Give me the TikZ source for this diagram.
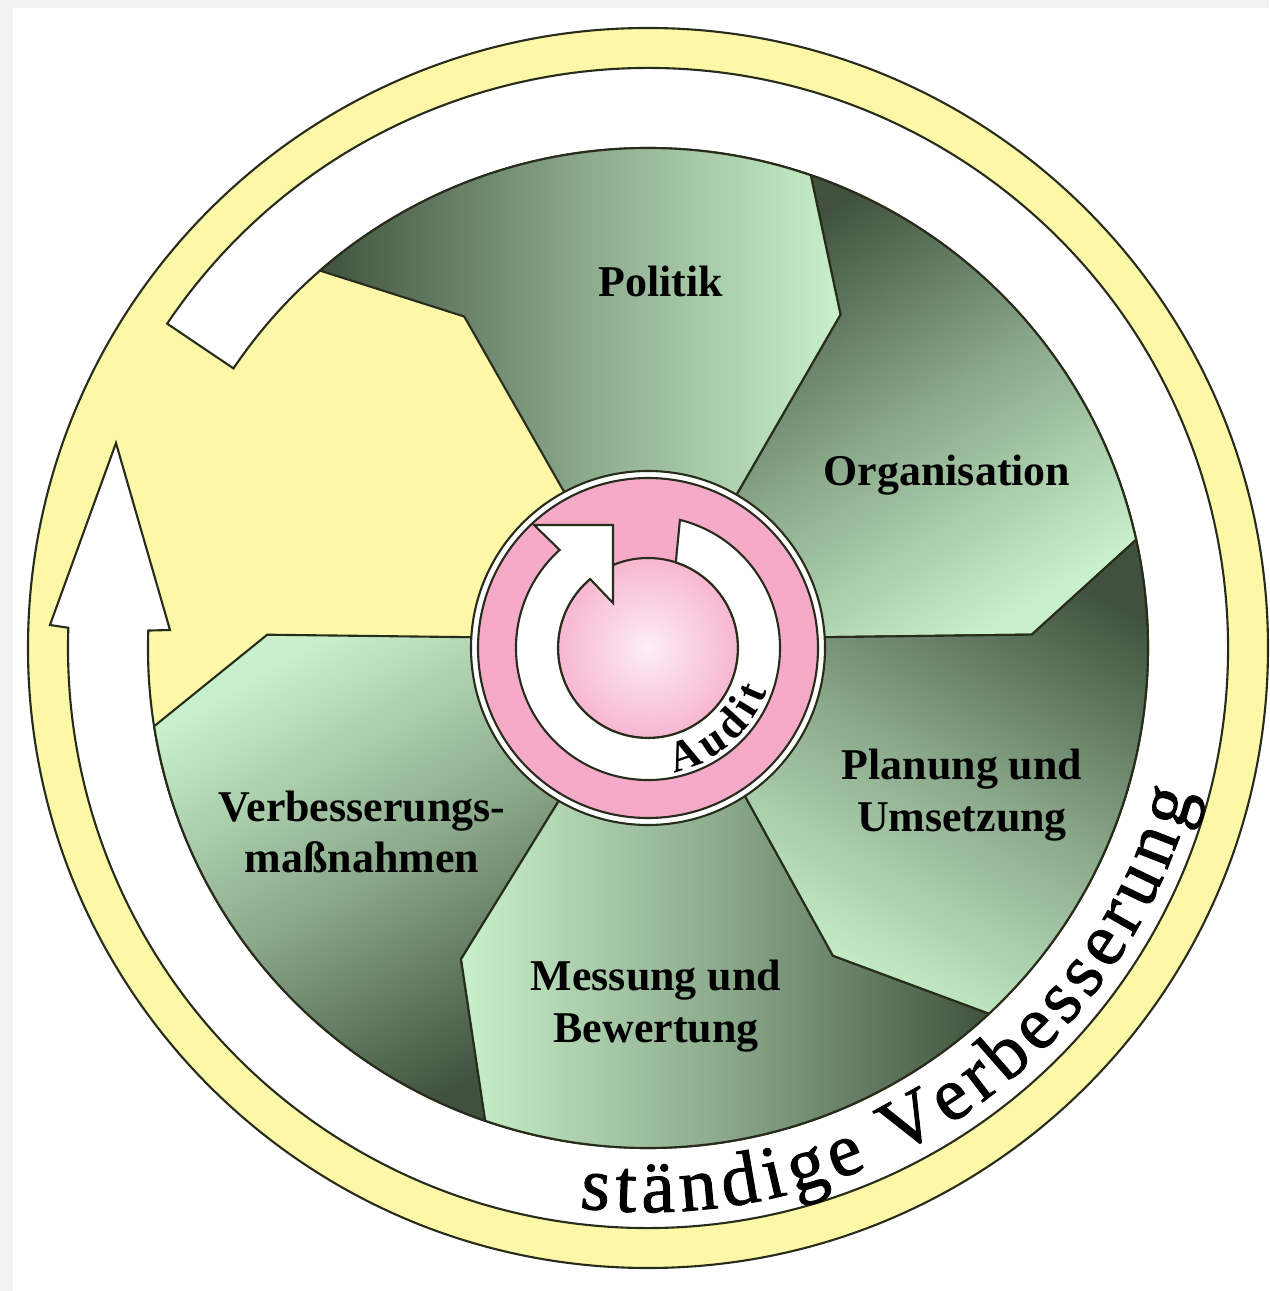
\documentclass[tikz,border=0pt]{standalone}
\usepackage{fontspec}
\setmainfont{Liberation Serif}
\newfontfamily\ringfont[FakeBold=1.3]{Liberation Serif}
\usetikzlibrary{decorations.text}
\definecolor{rimyellow}{RGB}{253,247,168}
\definecolor{leafdark}{RGB}{64,82,62}
\definecolor{leaflight}{RGB}{200,240,202}
\definecolor{auditpink}{RGB}{245,170,200}
\definecolor{auditcore}{RGB}{253,238,245}
\definecolor{rimline}{RGB}{40,44,26}
\begin{document}
\begin{tikzpicture}[outline/.style={draw=#1,line width=0.6pt},
  leaf/.style={top color=leafdark,bottom color=leaflight,middle color=leafdark!45!leaflight,shading angle=#1,outline=rimline},
  phasetext/.style={font=\fontsize{12.5}{14.6}\selectfont\bfseries,align=center}]
\useasboundingbox (-6.48,-6.43) rectangle (6.21,6.48);
\fill[black!5] (-6.48,-6.43) rectangle (6.21,6.48);
\fill[white] (-6.35,-6.43) rectangle (6.21,6.40);
% outer ring and the big arrow
\fill[fill=rimyellow,outline=rimline] (0,0) circle (6.2);
\fill[fill=white,outline=rimline] (146:5.8) arc[start angle=146,end angle=-182,radius=5.8]
  -- (-5.98,0.23) -- (-5.32,2.05) -- (-4.78,0.18)
  -- (-182:5) arc[start angle=-182,end angle=146,radius=5] -- cycle;
% where the phases meet
\coordinate (in1) at (4:1.5);    \coordinate (kink1) at (2:3.84);
\coordinate (in2) at (60:1.5);   \coordinate (kink2) at (60:3.85);
\coordinate (in3) at (118:1.5);  \coordinate (kink3) at (119:3.79);
\coordinate (in4) at (176:1.5);  \coordinate (kink4) at (178:3.81);
\coordinate (in5) at (-120:1.5); \coordinate (kink5) at (-121:3.63);
\coordinate (in6) at (-56:1.5);  \coordinate (kink6) at (-59:3.59);
\path[leaf=31] (in1) -- (kink1) -- (12.5:5) arc[start angle=12.5,end angle=71,radius=5] -- (kink2) -- (in2) -- cycle;
\path[leaf=90] (in2) -- (kink2) -- (71:5) arc[start angle=71,end angle=131,radius=5] -- (kink3) -- (in3) -- cycle;
\path[leaf=210] (in4) -- (kink4) -- (189:5) arc[start angle=189,end angle=251,radius=5] -- (kink5) -- (in5) -- cycle;
\path[leaf=270] (in5) -- (kink5) -- (251:5) arc[start angle=251,end angle=313,radius=5] -- (kink6) -- (in6) -- cycle;
\path[leaf=331] (in6) -- (kink6) -- (313:5) arc[start angle=313,end angle=372.5,radius=5] -- (kink1) -- (in1) -- cycle;
\node[phasetext] (politik) at (0.13,3.67) {Politik};
\node[phasetext] (organisation) at (2.99,1.73) {Organisation};
\node[phasetext] (planung) at (3.14,-1.47) {Planung und\\Umsetzung};
\node[phasetext] (messung) at (0.08,-3.58) {Messung und\\Bewertung};
\node[phasetext] (verbesserung) at (-2.86,-1.84) {Verbesserungs-\\maßnahmen};
% audit in the middle
\fill[fill=white,outline=rimline] (0,0) circle (1.77);
\fill[fill=auditpink,outline=rimline] (0,0) circle (1.70);
\shade[inner color=auditcore,outer color=auditpink!85,outline=rimline] (0,0) circle (0.9);
\fill[fill=white,outline=rimline] (76:1.32) arc[start angle=76,end angle=-228,radius=1.32]
  -- (-1.14,1.23) -- (-0.35,1.23) -- (-0.35,0.45)
  -- (-230:0.9) arc[start angle=-230,end angle=72,radius=0.9] -- cycle;
\path[decorate,decoration={text along path,text align=fit to path,
  text={|\fontsize{12.5}{15}\selectfont\bfseries|Audit}}]
  (-78:1.27) arc[start angle=-78,end angle=-20,radius=1.27];
\path[decorate,decoration={text along path,text align=fit to path,
  text={|\ringfont\fontsize{21.5}{25}\selectfont|ständige Verbesserung}}]
  (-97:5.64) arc[start angle=-97,end angle=-15,radius=5.64];
\end{tikzpicture}
\end{document}
